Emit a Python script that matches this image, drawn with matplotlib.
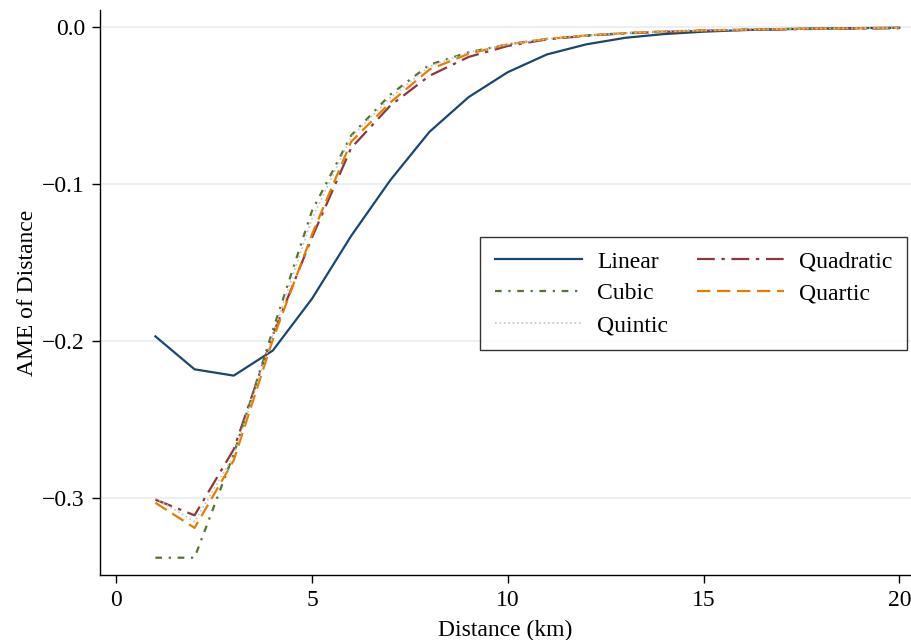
import numpy as np
import matplotlib.pyplot as plt

plt.rcParams['font.family'] = ['Liberation Serif', 'DejaVu Serif']

distance = np.arange(1, 21)

linear = [-0.197, -0.218, -0.222, -0.206, -0.173, -0.133, -0.0975, -0.0667, -0.0446, -0.0287,
          -0.0174, -0.0110, -0.0068, -0.0044, -0.0029, -0.0019, -0.0013, -0.0009, -0.0006, -0.0004]
quadratic = [-0.301, -0.311, -0.269, -0.196, -0.134, -0.077, -0.050, -0.031, -0.019, -0.012,
             -0.0078, -0.0055, -0.0040, -0.0030, -0.0023, -0.0018, -0.0014, -0.0011, -0.0009, -0.0007]
cubic = [-0.338, -0.338, -0.272, -0.193, -0.117, -0.069, -0.043, -0.024, -0.016, -0.011,
         -0.0075, -0.0053, -0.0038, -0.0028, -0.0021, -0.0016, -0.0012, -0.0009, -0.0007, -0.0005]
quartic = [-0.303, -0.319, -0.276, -0.199, -0.132, -0.073, -0.048, -0.027, -0.017, -0.011,
           -0.0075, -0.0053, -0.0038, -0.0028, -0.0021, -0.0016, -0.0012, -0.0009, -0.0007, -0.0005]
quintic = [-0.300, -0.315, -0.273, -0.196, -0.122, -0.070, -0.045, -0.025, -0.016, -0.011,
           -0.0075, -0.0053, -0.0038, -0.0028, -0.0021, -0.0016, -0.0012, -0.0009, -0.0007, -0.0005]

fig = plt.figure(figsize=(9.11, 6.40), dpi=100)
ax = fig.add_axes([0.11, 0.1016, 0.89, 0.883])

ax.set_xlim(-0.41, 20.3)
ax.set_ylim(-0.349, 0.011)
ax.set_yticks([0.0, -0.1, -0.2, -0.3])
ax.set_xticks([0, 5, 10, 15, 20])
ax.yaxis.grid(True, color='#eaf0f2', lw=1.5)
ax.set_axisbelow(True)

l1, = ax.plot(distance, linear, color='#1a476f', lw=1.6, label='Linear')
l2, = ax.plot(distance, quadratic, color='#90353b', lw=1.6, dashes=(8, 3, 1.5, 3), label='Quadratic')
l3, = ax.plot(distance, cubic, color='#55752f', lw=1.6, dashes=(3, 3, 1, 3), label='Cubic')
l4, = ax.plot(distance, quartic, color='#e37e00', lw=1.6, dashes=(6, 3), label='Quartic')
l5, = ax.plot(distance, quintic, color='#c4c4c4', lw=1.2, ls=':', label='Quintic')

leg = ax.legend(handles=[l1, l3, l5, l2, l4], ncol=2, loc='upper right',
                bbox_to_anchor=(0.995, 0.598), fontsize=17, frameon=True, fancybox=False,
                handlelength=3.7, handletextpad=0.65, columnspacing=1.2,
                labelspacing=0.43, borderpad=0.6, borderaxespad=0)
leg.get_frame().set_edgecolor('black')
leg.get_frame().set_linewidth(1.0)

for s in ['top', 'right']:
    ax.spines[s].set_visible(False)
for s in ['left', 'bottom']:
    ax.spines[s].set_color('black')
    ax.spines[s].set_linewidth(1.0)

ax.tick_params(labelsize=17, length=6, width=1, pad=5)
ax.set_yticklabels(['0.0', '\u22120.1', '\u22120.2', '\u22120.3'])
ax.set_xlabel('Distance (km)', fontsize=17, labelpad=6)
ax.set_ylabel('AME of Distance', fontsize=17, labelpad=3)

fig.savefig('out.png', dpi=100)
